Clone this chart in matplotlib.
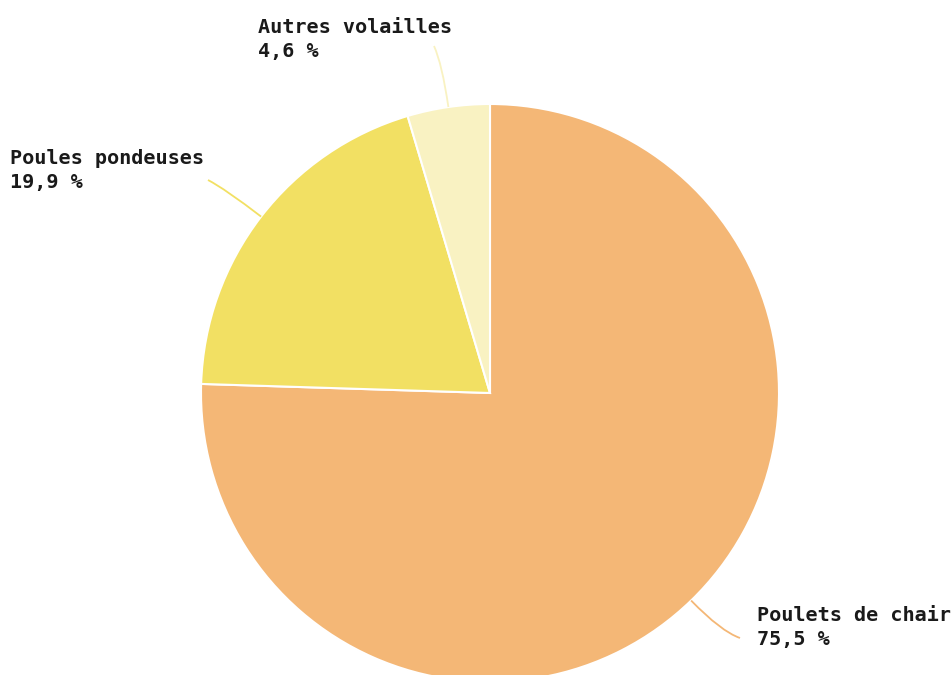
import numpy as np
import matplotlib.pyplot as plt
from matplotlib.path import Path
from matplotlib.patches import PathPatch

# parts of poultry, percent
categories = ['Poulets de chair', 'Poules pondeuses', 'Autres volailles']
shares = [75.5, 19.9, 4.6]
labels = ['75,5 %', '19,9 %', '4,6 %']
colors = ['#F4B776', '#F2E063', '#F9F2C2']

# layout in pixel units
cx, cy, rad = 490, 393, 289
# end of each leader line, and where its text goes (x, baseline of last line)
leader_end = [(740, 638), (208, 180), (434, 46)]
text_pos = [(757, 645), (10, 188), (258, 57)]

fig = plt.figure(figsize=(9.52, 6.75), dpi=100)
ax = fig.add_axes([0, 0, 1, 1])
ax.axis('off')

# pie goes clockwise from 12 o'clock; y axis is flipped so counterclock=True
wedges, _ = ax.pie(shares, colors=colors, center=(cx, cy), radius=rad,
                   startangle=-90, counterclock=True,
                   wedgeprops=dict(edgecolor='white', linewidth=1.5))
ax.set_xlim(0, 952)
ax.set_ylim(675, 0)
ax.set_aspect('equal')

start = 0.0
for i, s in enumerate(shares):
    mid = (start + s / 2) / 100 * 2 * np.pi
    start += s
    x0 = cx + rad * np.sin(mid)
    y0 = cy - rad * np.cos(mid)
    x2, y2 = leader_end[i]
    # control point a little further out along the radius
    ext = rad + 0.7 * np.hypot(x2 - x0, y2 - y0)
    x1 = cx + ext * np.sin(mid)
    y1 = cy - ext * np.cos(mid)
    path = Path([(x0, y0), (x1, y1), (x2, y2)],
                [Path.MOVETO, Path.CURVE3, Path.CURVE3])
    ax.add_patch(PathPatch(path, fill=False, edgecolor=colors[i], lw=1.3))

    tx, ty = text_pos[i]
    ax.text(tx, ty, categories[i] + '\n' + labels[i], ha='left', va='baseline',
            fontsize=14.5, fontweight='bold', family='DejaVu Sans Mono',
            color='#1a1a1a', linespacing=1.35)

fig.savefig('out.png', dpi=100)
